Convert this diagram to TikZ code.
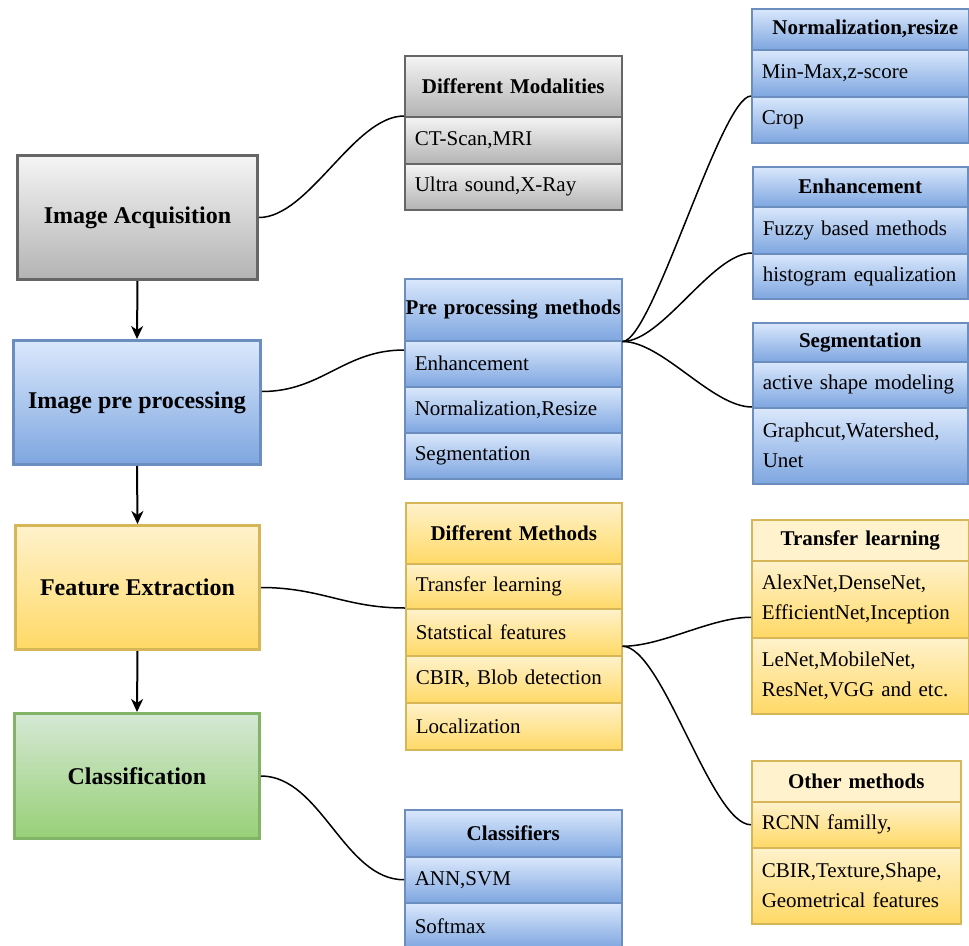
\documentclass[tikz,border=0pt]{standalone}
\usepackage{fontspec}
\setmainfont{Liberation Serif}
\usetikzlibrary{arrows.meta,calc}
\definecolor{gtop}{HTML}{F5F5F5}
\definecolor{gbot}{HTML}{B3B3B3}
\definecolor{gstroke}{HTML}{666666}
\definecolor{btop}{HTML}{DAE8FC}
\definecolor{bbot}{HTML}{7EA6E0}
\definecolor{bstroke}{HTML}{6C8EBF}
\definecolor{ytop}{HTML}{FFF2CC}
\definecolor{ybot}{HTML}{FFD966}
\definecolor{ystroke}{HTML}{D6B656}
\definecolor{grtop}{HTML}{D5E8D4}
\definecolor{grbot}{HTML}{97D077}
\definecolor{grstroke}{HTML}{82B366}
\tikzset{
  cellbox/.style={anchor=north west, draw, line width=1.5pt, inner xsep=10pt, inner ysep=0pt,
    align=left, font=\fontsize{21}{30}\selectfont},
  headbox/.style={anchor=north west, draw, line width=1.5pt, inner xsep=0pt, inner ysep=0pt,
    align=center, font=\bfseries\fontsize{21}{30}\selectfont},
  mainbox/.style={anchor=north west, line width=3pt, inner sep=0pt, align=center,
    font=\bfseries\fontsize{24}{30}\selectfont},
  gfill/.style={draw=gstroke, top color=gtop, bottom color=gbot},
  bfill/.style={draw=bstroke, top color=btop, bottom color=bbot},
  yfill/.style={draw=ystroke, top color=ytop, bottom color=ybot},
  yflat/.style={draw=ystroke, fill=ytop},
  grfill/.style={draw=grstroke, top color=grtop, bottom color=grbot},
  conn/.style={line width=1.5pt, black},
  flow/.style={line width=2pt, black, -{Stealth[length=13pt,width=12pt,inset=4pt]}}
}
\begin{document}
\begin{tikzpicture}[x=1pt,y=-1pt]
\useasboundingbox (0,0) rectangle (969,945);

% main boxes
\node[mainbox, gfill, minimum width=240pt, minimum height=124pt] (ia) at (16,154) {Image Acquisition};
\node[mainbox, bfill, minimum width=247pt, minimum height=124pt] (ip) at (12,339) {Image pre processing};
\node[mainbox, yfill, minimum width=244pt, minimum height=124pt] (fe) at (14,524) {Feature Extraction};
\node[mainbox, grfill, minimum width=245pt, minimum height=125pt] (cf) at (13,712) {Classification};

% Different Modalities
\node[headbox, gfill, text width=217pt, minimum height=61pt] (dmh) at (404,55) {Different Modalities};
\node[cellbox, gfill, text width=197pt, minimum height=47pt] (dm1) at (404,116) {CT-Scan,MRI};
\node[cellbox, gfill, text width=197pt, minimum height=46pt] (dm2) at (404,163) {Ultra sound,X-Ray};

% Normalization,resize
\node[headbox, bfill, text width=217pt, minimum height=41pt] (nzh) at (751,8) {\hspace*{10pt}Normalization,resize};
\node[cellbox, bfill, text width=197pt, minimum height=47pt] (nz1) at (751,49) {Min-Max,z-score};
\node[cellbox, bfill, text width=197pt, minimum height=46pt] (nz2) at (751,96) {Crop};

% Enhancement
\node[headbox, bfill, text width=215pt, minimum height=40pt] (enh) at (752,166) {Enhancement};
\node[cellbox, bfill, text width=195pt, minimum height=47pt] (en1) at (752,206) {Fuzzy based methods};
\node[cellbox, bfill, text width=195pt, minimum height=45pt] (en2) at (752,253) {histogram equalization};

% Segmentation
\node[headbox, bfill, text width=215pt, minimum height=39pt] (sgh) at (752,322) {Segmentation};
\node[cellbox, bfill, text width=195pt, minimum height=46pt] (sg1) at (752,361) {active shape modeling};
\node[cellbox, bfill, text width=195pt, minimum height=76pt] (sg2) at (752,407) {Graphcut,Watershed,\\Unet};

% Pre processing methods
\node[headbox, bfill, text width=217pt, minimum height=62pt] (pph) at (404,278) {Pre processing methods};
\node[cellbox, bfill, text width=197pt, minimum height=46pt] (pp1) at (404,340) {Enhancement};
\node[cellbox, bfill, text width=197pt, minimum height=46pt] (pp2) at (404,386) {Normalization,Resize};
\node[cellbox, bfill, text width=197pt, minimum height=46pt] (pp3) at (404,432) {Segmentation};

% Different Methods
\node[headbox, yfill, text width=216pt, minimum height=61pt] (fmh) at (405,502) {Different Methods};
\node[cellbox, yfill, text width=196pt, minimum height=45pt] (fm1) at (405,563) {Transfer learning};
\node[cellbox, yfill, text width=196pt, minimum height=47pt] (fm2) at (405,608) {Statstical features};
\node[cellbox, yfill, text width=196pt, minimum height=47pt] (fm3) at (405,655) {CBIR, Blob detection};
\node[cellbox, yfill, text width=196pt, minimum height=47pt] (fm4) at (405,702) {Localization};

% Transfer learning
\node[headbox, yflat, text width=217pt, minimum height=41pt] (tlh) at (751,519) {Transfer learning};
\node[cellbox, yfill, text width=197pt, minimum height=77pt] (tl1) at (751,560) {AlexNet,DenseNet,\\EfficientNet,Inception};
\node[cellbox, yfill, text width=197pt, minimum height=76pt] (tl2) at (751,637) {LeNet,MobileNet,\\ResNet,VGG and etc.};

% Other methods
\node[headbox, yflat, text width=209pt, minimum height=41pt] (omh) at (751,760) {Other methods};
\node[cellbox, yfill, text width=189pt, minimum height=46pt] (om1) at (751,801) {RCNN familly,};
\node[cellbox, yfill, text width=189pt, minimum height=76pt] (om2) at (751,847) {CBIR,Texture,Shape,\\Geometrical features};

% Classifiers
\node[headbox, bfill, text width=217pt, minimum height=47pt] (clh) at (404,809) {Classifiers};
\node[cellbox, bfill, text width=197pt, minimum height=46pt] (cl1) at (404,856) {ANN,SVM};
\node[cellbox, bfill, text width=197pt, minimum height=46pt] (cl2) at (404,902) {Softmax};

% flow arrows
\draw[flow] (ia.south) -- (ip.north);
\draw[flow] (ip.south) -- (fe.north);
\draw[flow] (fe.south) -- (cf.north);

% connectors
\coordinate (ipout) at ([yshift=11pt]ip.east);
\coordinate (ppin) at ([yshift=-10pt]pp1.north west);
\coordinate (fmout) at ([yshift=-14pt]fm2.east);
\coordinate (tlin) at ([yshift=-18pt]tl1.west);
\draw[conn] (ia.east) .. controls +(50,0) and +(-50,0) .. (dm1.north west);
\draw[conn] (ipout) .. controls +(60,0) and +(-60,0) .. (ppin);
\draw[conn] (pph.south east) .. controls +(30,0) and +(-30,0) .. (nz2.north west);
\draw[conn] (pph.south east) .. controls +(40,0) and +(-40,0) .. (en2.north west);
\draw[conn] (pph.south east) .. controls +(40,0) and +(-40,0) .. (sg2.north west);
\draw[conn] (fe.east) .. controls +(60,0) and +(-60,0) .. (fm2.north west);
\draw[conn] (fmout) .. controls +(40,0) and +(-40,0) .. (tlin);
\draw[conn] (fmout) .. controls +(40,0) and +(-40,0) .. (om1.west);
\draw[conn] (cf.east) .. controls +(60,0) and +(-60,0) .. (cl1.west);
\end{tikzpicture}
\end{document}
